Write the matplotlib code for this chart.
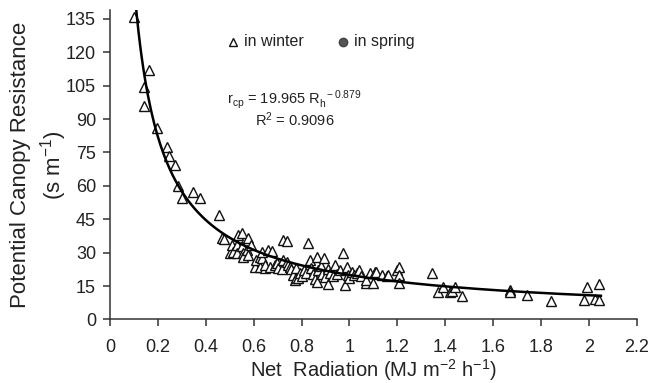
import matplotlib
matplotlib.use("Agg")
import matplotlib.pyplot as plt
import numpy as np

plt.rcParams['font.family'] = ['Liberation Sans', 'DejaVu Sans']
plt.rcParams['mathtext.fontset'] = 'custom'
plt.rcParams['mathtext.rm'] = 'Liberation Sans'
plt.rcParams['mathtext.it'] = 'Liberation Sans:italic'

# net radiation (MJ m-2 h-1) and potential canopy resistance (s m-1), winter
rn_winter = [0.100, 0.142, 0.142, 0.164, 0.198, 0.239, 0.248, 0.271, 0.285, 0.303,
             0.348, 0.376, 0.457, 0.470, 0.478,
             0.501, 0.508, 0.515, 0.529, 0.529, 0.536, 0.550, 0.550, 0.557, 0.557,
             0.571, 0.578, 0.578, 0.591, 0.605, 0.612, 0.626, 0.626, 0.633, 0.633,
             0.647, 0.647, 0.661, 0.668, 0.675, 0.689, 0.696, 0.703, 0.717, 0.724,
             0.724, 0.738, 0.738, 0.745, 0.752, 0.758, 0.765, 0.772, 0.779, 0.779,
             0.785, 0.793, 0.800, 0.810, 0.820, 0.828, 0.835, 0.840, 0.848, 0.855,
             0.863, 0.863, 0.870, 0.880, 0.885, 0.895, 0.900, 0.910, 0.910, 0.920,
             0.930, 0.940, 0.950, 0.960, 0.974, 0.980, 0.988, 0.995, 1.000, 1.010,
             1.020, 1.030, 1.040, 1.050, 1.070, 1.070, 1.086, 1.100, 1.106, 1.113,
             1.134, 1.155, 1.160, 1.197, 1.208, 1.208, 1.208,
             1.343, 1.371, 1.390, 1.420, 1.430, 1.440, 1.468, 1.670, 1.670, 1.743,
             1.840, 1.980, 1.990, 2.025, 2.040, 2.043]
rcp_winter = [136.0, 104.4, 95.7, 112.0, 86.0, 77.4, 73.2, 69.4, 60.0, 54.5,
              57.4, 54.5, 47.0, 36.5, 36.2,
              29.7, 33.4, 30.5, 33.4, 29.7, 37.9, 39.0, 33.0, 29.7, 28.2,
              31.0, 36.7, 29.0, 33.4, 23.7, 26.7, 23.7, 28.2, 27.4, 30.4,
              22.9, 24.4, 31.2, 23.7, 30.9, 24.4, 25.5, 23.0, 22.5, 26.7,
              35.7, 35.2, 26.0, 24.5, 23.7, 22.5, 20.0, 17.7, 18.5, 23.0,
              18.8, 20.7, 19.5, 22.0, 21.0, 34.2, 26.7, 23.0, 20.5, 18.0,
              28.2, 17.0, 22.0, 24.0, 20.5, 27.7, 19.0, 22.5, 15.8, 21.0,
              19.5, 24.4, 20.5, 22.0, 29.7, 15.4, 23.7, 20.0, 18.5, 21.5,
              20.0, 20.7, 22.0, 19.5, 16.2, 17.5, 20.7, 16.2, 21.4, 21.4,
              20.0, 19.5, 20.0, 22.2, 23.7, 20.0, 16.5,
              20.7, 12.4, 14.5, 12.4, 12.8, 14.5, 10.5, 13.2, 12.5, 10.9,
              8.4, 8.7, 14.7, 9.0, 8.7, 15.9]

# power fit shown on the chart
fit_a = 19.965
fit_b = -0.879
fit_r2 = 0.9096
fit_range = (0.1, 2.05)

xticks = [0, 0.2, 0.4, 0.6, 0.8, 1, 1.2, 1.4, 1.6, 1.8, 2, 2.2]
xticklabels = ['0', '0.2', '0.4', '0.6', '0.8', '1', '1.2', '1.4', '1.6', '1.8', '2', '2.2']
yticks = [0, 15, 30, 45, 60, 75, 90, 105, 120, 135]

fig = plt.figure(figsize=(6.62, 3.83), dpi=100)
ax = fig.add_axes([0.166, 0.166, 0.796, 0.808])

ax.plot(rn_winter, rcp_winter, linestyle='none', marker='^', markersize=7.3,
        markerfacecolor='white', markeredgecolor='#111111', markeredgewidth=1.0, zorder=3)

xf = np.linspace(fit_range[0], fit_range[1], 300)
ax.plot(xf, fit_a * xf ** fit_b, color='black', linewidth=1.8, zorder=4)

ax.set_xlim(0, 2.2)
ax.set_ylim(0, 139)
ax.set_xticks(xticks)
ax.set_xticklabels(xticklabels)
ax.set_yticks(yticks)
for s in ['top', 'right']:
    ax.spines[s].set_visible(False)
for s in ['left', 'bottom']:
    ax.spines[s].set_linewidth(1.1)
    ax.spines[s].set_color('#333333')
ax.tick_params(direction='out', length=5, width=1.1, colors='#333333',
               labelsize=13, labelcolor='#222222')
ax.tick_params(axis='x', pad=9)
ax.tick_params(axis='y', pad=5)

ax.set_xlabel('Net  Radiation (MJ m$^{-2}$ h$^{-1}$)', fontsize=14.5, color='#222222', labelpad=1)
ax.set_ylabel('Potential Canopy Resistance\n(s m$^{-1}$)', fontsize=16, color='#222222',
              linespacing=1.3, labelpad=-2)

# legend drawn as text with symbols
ax.plot([0.233], [0.897], transform=ax.transAxes, marker='^', markersize=6,
        markerfacecolor='white', markeredgecolor='#111111', linestyle='none', clip_on=False)
ax.text(0.255, 0.897, 'in winter', transform=ax.transAxes, fontsize=11.5,
        va='center', ha='left', color='#222222')
ax.plot([0.442], [0.897], transform=ax.transAxes, marker='o', markersize=6,
        markerfacecolor='#555555', markeredgecolor='#444444', linestyle='none', clip_on=False)
ax.text(0.463, 0.897, 'in spring', transform=ax.transAxes, fontsize=11.5,
        va='center', ha='left', color='#222222')

ax.text(0.222, 0.712, r'r$_{\rm cp}$ = %.3f R$_{\rm h}^{\ \ %.3f}$' % (fit_a, fit_b),
        transform=ax.transAxes, fontsize=10.5, va='center', ha='left', color='#222222')
ax.text(0.275, 0.646, 'R$^{2}$ = %.4f' % fit_r2,
        transform=ax.transAxes, fontsize=10.5, va='center', ha='left', color='#222222')

fig.savefig('out.png', dpi=100)
